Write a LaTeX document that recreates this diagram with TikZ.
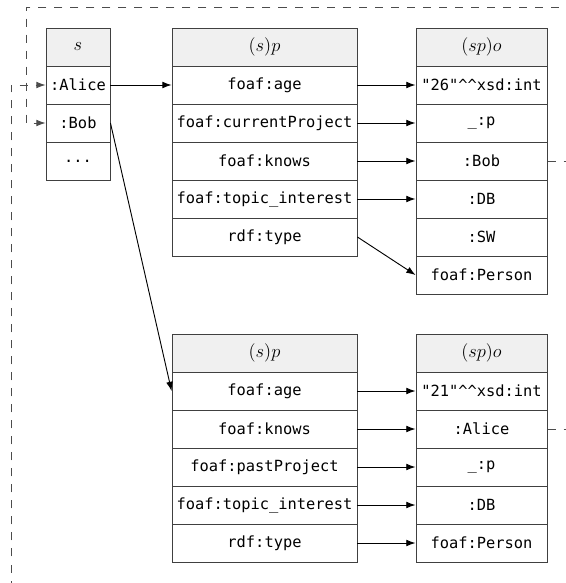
\documentclass[tikz,border=0pt]{standalone}
\usepackage{fontspec}
\setmonofont{DejaVu Sans Mono}
\usetikzlibrary{arrows.meta}

\begin{document}
\begin{tikzpicture}[x=0.65pt, y=-0.65pt,
	cell/.style={draw=black!75, line width=0.6pt, minimum height=24.7pt, inner sep=2pt, font=\ttfamily},
	head/.style={cell, fill=black!6, font=\large},
	scol/.style={minimum width=41.6pt},
	pcol/.style={minimum width=120.2pt},
	ocol/.style={minimum width=85.2pt},
	link/.style={-{Latex[length=6pt,width=4.4pt]}, line width=0.6pt},
	back/.style={link, draw=black!70, dash pattern=on 5.2pt off 5.2pt}]
	\clip (0,0) rectangle (566,583);
	% subjects
	\node[head, scol] (s0) at (78,47) {$s$};
	\node[cell, scol] (salice) at (78,85) {:Alice};
	\node[cell, scol] (sbob) at (78,123) {:Bob};
	\node[cell, scol] (sdots) at (78,161) {...};
	% predicates of :Alice
	\node[head, pcol] (p1h) at (264.5,47) {$(s)p$};
	\node[cell, pcol] (p1age) at (264.5,85) {foaf:age};
	\node[cell, pcol] (p1proj) at (264.5,123) {foaf:currentProject};
	\node[cell, pcol] (p1knows) at (264.5,161) {foaf:knows};
	\node[cell, pcol] (p1topic) at (264.5,199) {foaf:topic\_interest};
	\node[cell, pcol] (p1type) at (264.5,237) {rdf:type};
	% objects of :Alice
	\node[head, ocol] (o1h) at (481.5,47) {$(sp)o$};
	\node[cell, ocol] (o1age) at (481.5,85) {"26"\textasciicircum\textasciicircum xsd:int};
	\node[cell, ocol] (o1proj) at (481.5,123) {\_:p};
	\node[cell, ocol] (o1bob) at (481.5,161) {:Bob};
	\node[cell, ocol] (o1db) at (481.5,199) {:DB};
	\node[cell, ocol] (o1sw) at (481.5,237) {:SW};
	\node[cell, ocol] (o1person) at (481.5,275) {foaf:Person};
	% predicates of :Bob
	\node[head, pcol] (p2h) at (264.5,353) {$(s)p$};
	\node[cell, pcol] (p2age) at (264.5,391) {foaf:age};
	\node[cell, pcol] (p2knows) at (264.5,429) {foaf:knows};
	\node[cell, pcol] (p2proj) at (264.5,467) {foaf:pastProject};
	\node[cell, pcol] (p2topic) at (264.5,505) {foaf:topic\_interest};
	\node[cell, pcol] (p2type) at (264.5,543) {rdf:type};
	% objects of :Bob
	\node[head, ocol] (o2h) at (481.5,353) {$(sp)o$};
	\node[cell, ocol] (o2age) at (481.5,391) {"21"\textasciicircum\textasciicircum xsd:int};
	\node[cell, ocol] (o2alice) at (481.5,429) {:Alice};
	\node[cell, ocol] (o2proj) at (481.5,467) {\_:p};
	\node[cell, ocol] (o2db) at (481.5,505) {:DB};
	\node[cell, ocol] (o2person) at (481.5,543) {foaf:Person};
	% corners of the back links
	\coordinate (edgeR) at (572,0);
	\coordinate (loopT) at (26,7);
	\coordinate (loopB) at (11,600);
	\draw[link] (salice) -- (p1age);
	\draw[link] (sbob.east) -- (p2age.west);
	\draw[link] (p1age) -- (o1age);
	\draw[link] (p1proj) -- (o1proj);
	\draw[link] (p1knows) -- (o1bob);
	\draw[link] (p1topic) -- (o1db);
	\draw[link] (p1type.east) -- (o1person.west);
	\draw[link] (p2age) -- (o2age);
	\draw[link] (p2knows) -- (o2alice);
	\draw[link] (p2proj) -- (o2proj);
	\draw[link] (p2topic) -- (o2db);
	\draw[link] (p2type) -- (o2person);
	\draw[back] (o1bob.east) -- (o1bob.east -| edgeR) |- (loopT) |- (sbob.west);
	\draw[back] (o2alice.east) -- (o2alice.east -| edgeR) |- (loopB) |- (salice.west);
\end{tikzpicture}
\end{document}
